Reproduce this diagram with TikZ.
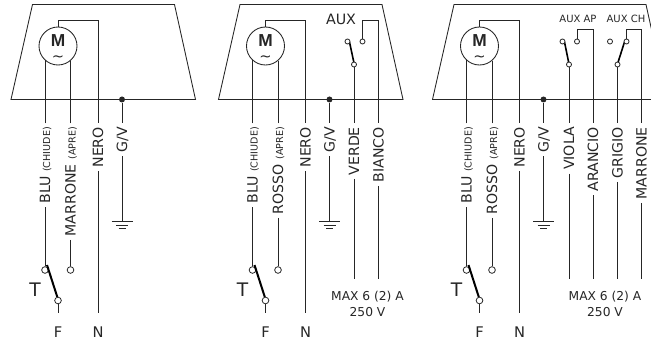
\documentclass[tikz,border=0pt]{standalone}
\usepackage{fontspec}
\setmainfont{DejaVu Sans}
\newfontfamily\motorfont{Liberation Sans}
\usetikzlibrary{calc}
\tikzset{
  wire/.style={line width=0.65pt,black!85},
  swarm/.style={line width=1.5pt,black},
  wirelabel/.style={rotate=90,anchor=east,inner sep=2.5pt,text height=7.8pt,text depth=0pt,font=\fontsize{10.6}{12}\selectfont,text=black!85},
  term/.style={circle,draw=black!85,line width=0.6pt,fill=white,inner sep=0pt,minimum size=5pt},
  contact/.style={term,minimum size=3.8pt},
  junction/.style={circle,fill=black!85,inner sep=0pt,minimum size=4.5pt},
  motor/.style={circle,draw=black!85,line width=0.65pt,inner sep=0pt,minimum size=28.5pt},
  plain/.style={inner sep=0pt,text=black!85}
}
\newcommand{\tinypar}[1]{{\fontsize{7.2}{8}\selectfont #1}}
\begin{document}
\begin{tikzpicture}[x=0.75pt,y=-0.75pt]
\useasboundingbox (0,0) rectangle (651,346);
\begin{scope}
\clip (0,0) rectangle (651,346);

% Three panels: motor, earth, limit switch
\foreach \p/\dx/\second/\tr/\br in {a/0/MARRONE/174.5/195.5,b/207.5/ROSSO/174.5/195.5,c/421.5/ROSSO/224.5/245.5} {
\begin{scope}[shift={(\dx,0)}]
% Housing
\draw[wire] (32.5,4.5) -- (\tr,4.5) -- (\br,99.5) -- (11,99.5) -- cycle;

% Motor
\node[motor] (mot\p) at (58,46) {};
\node[plain,font=\motorfont\fontsize{13}{14}\selectfont\bfseries] (mlet\p) at (58,41) {M};
\node[plain,font=\fontsize{11}{12}\selectfont] (mtil\p) at (58,58.5) {\char126};

% Wire labels
\node[wirelabel] (blu\p) at (45,123.5) {BLU \tinypar{(CHIUDE)}};
\node[wirelabel] (sec\p) at (70.5,123.5) {\second{} \tinypar{(APRE)}};
\node[wirelabel] (nero\p) at (98,123.5) {NERO};
\node[wirelabel] (gv\p) at (122,123.5) {G/V};
\node[junction] (jn\p) at (122,99.5) {};

% Switch T
\node[term] (tl\p) at (45,270) {};
\node[term] (tr\p) at (70.5,270) {};
\draw[swarm] (47,265) -- (57.3,297);
\node[term] (tf\p) at (58,300.5) {};
\node[plain,font=\fontsize{14}{16}\selectfont] (tlet\p) at (35,290) {T};
\node[plain,font=\fontsize{11}{12}\selectfont] (ff\p) at (58,332) {F};
\node[plain,font=\fontsize{11}{12}\selectfont] (nn\p) at (98,332) {N};

\coordinate (ntop\p) at (98,20.5);
\coordinate (nend\p) at (98,313);
\coordinate (fend\p) at (58,313);
\coordinate (gnd\p) at (122,221.5);

\draw[wire] (blu\p.east) -- (blu\p.east |- mot\p.227);
\draw[wire] (blu\p.west) -- (tl\p);
\draw[wire] (sec\p.east) -- (sec\p.east |- mot\p.-49);
\draw[wire] (sec\p.west) -- (tr\p);
\draw[wire] (mot\p.north) |- (ntop\p) -- (nero\p.east);
\draw[wire] (nero\p.west) -- (nend\p);
\draw[wire] (jn\p) -- (gv\p.east);
\draw[wire] (gv\p.west) -- (gnd\p);
\draw[wire] (tf\p) -- (fend\p);

% Earth
\draw[wire] ($(gnd\p)+(-10.5,0)$) -- ($(gnd\p)+(10.5,0)$);
\draw[wire] ($(gnd\p)+(-6,3.8)$) -- ($(gnd\p)+(6,3.8)$);
\draw[wire] ($(gnd\p)+(-3.5,7.2)$) -- ($(gnd\p)+(3.5,7.2)$);
\end{scope}
}

% Single auxiliary contact
\node[plain,font=\fontsize{10.7}{12}\selectfont] (auxb) at (341,19) {AUX};
\node[wirelabel] (verde) at (354,123.5) {VERDE};
\node[wirelabel] (bianco) at (378.5,123.5) {BIANCO};
\draw[swarm,line width=1.2pt] (349.5,42) -- (354,63);
\node[contact] (bnc) at (347.5,41.5) {};
\node[contact] (bno) at (362.5,41.5) {};
\node[contact] (bcom) at (354,64.5) {};
\coordinate (btop) at (362.5,20.5);
\coordinate (bcor) at (378.5,20.5);
\coordinate (bve) at (354,279);
\coordinate (bbe) at (378.5,279);
\draw[wire] (bcom) -- (verde.east);
\draw[wire] (verde.west) -- (bve);
\draw[wire] (bno) -- (btop) -- (bcor) -- (bianco.east);
\draw[wire] (bianco.west) -- (bbe);
\node[plain,font=\fontsize{9.2}{10}\selectfont] (maxb) at (367.5,296.5) {MAX 6 (2) A};
\node[plain,font=\fontsize{9.2}{10}\selectfont] (volb) at (367.5,312) {250 V};

% Double auxiliary contacts
\node[plain,font=\fontsize{7.5}{9}\selectfont] (auxap) at (578,18.5) {AUX AP};
\node[plain,font=\fontsize{7.5}{9}\selectfont] (auxch) at (626,18.5) {AUX CH};
\foreach \n/\x in {viola/569,arancio/593,grigio/617.5,marrone/641.5}
  \coordinate (e\n) at (\x,279);
\node[wirelabel] (viola) at (569,123.5) {VIOLA};
\node[wirelabel] (arancio) at (593,123.5) {ARANCIO};
\node[wirelabel] (grigio) at (617.5,123.5) {GRIGIO};
\node[wirelabel] (marrone) at (641.5,123.5) {MARRONE};
\draw[swarm,line width=1.2pt] (564.5,42) -- (568.8,63);
\draw[swarm,line width=1.2pt] (617.8,63) -- (624.5,42);
\node[contact] (cnc) at (562.5,41.5) {};
\node[contact] (cno) at (577,41.5) {};
\node[contact] (ccom) at (569,64.5) {};
\node[contact] (dnc) at (610,41.5) {};
\node[contact] (dno) at (626.5,41.5) {};
\node[contact] (dcom) at (617.5,64.5) {};
\coordinate (ctop) at (577,29);
\coordinate (ccor) at (593,29);
\coordinate (dtop) at (626.5,29);
\coordinate (dcor) at (641.5,29);
\draw[wire] (ccom) -- (viola.east);
\draw[wire] (viola.west) -- (eviola);
\draw[wire] (cno) -- (ctop) -- (ccor) -- (arancio.east);
\draw[wire] (arancio.west) -- (earancio);
\draw[wire] (dcom) -- (grigio.east);
\draw[wire] (grigio.west) -- (egrigio);
\draw[wire] (dno) -- (dtop) -- (dcor) -- (marrone.east);
\draw[wire] (marrone.west) -- (emarrone);
\node[plain,font=\fontsize{9.2}{10}\selectfont] (maxc) at (605,297) {MAX 6 (2) A};
\node[plain,font=\fontsize{9.2}{10}\selectfont] (volc) at (605,312) {250 V};
\end{scope}
\end{tikzpicture}
\end{document}
